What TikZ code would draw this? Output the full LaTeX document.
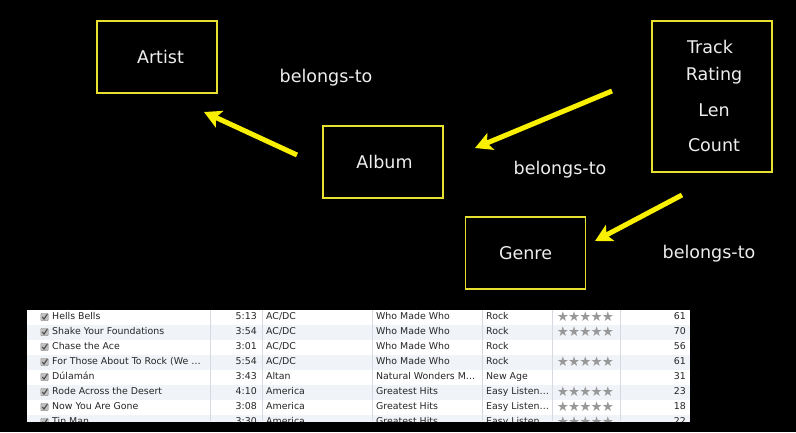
\documentclass[tikz,border=0pt]{standalone}
\usepackage{fontspec}
\setmainfont{DejaVu Sans}
\usetikzlibrary{arrows.meta}

\definecolor{boxyellow}{HTML}{E8E030}
\definecolor{arrowyellow}{HTML}{F8F000}
\definecolor{labelwhite}{HTML}{EEEEEE}
\definecolor{rowshade}{HTML}{F0F3F8}
\definecolor{gridline}{HTML}{D6DAE0}
\definecolor{cellink}{HTML}{262626}
\definecolor{stargray}{HTML}{989898}
\definecolor{checkgray}{HTML}{8A8A8A}

\tikzset{
  entity/.style={draw=boxyellow, line width=1.8pt, minimum width=120pt,
    minimum height=72pt, inner sep=0pt, text=labelwhite,
    font=\fontsize{17.5}{20}\selectfont},
  field/.style={text=labelwhite, inner sep=0pt, font=\fontsize{17.5}{20}\selectfont},
  relation/.style={text=labelwhite, inner sep=0pt, font=\fontsize{17.5}{20}\selectfont},
  flow/.style={draw=arrowyellow, line width=5pt,
    -{Stealth[length=17pt,width=18pt,inset=4pt]}},
  cell/.style={inner sep=0pt, text=cellink, text height=6.8pt, text depth=1.9pt,
    font=\fontsize{9.4}{11}\selectfont},
  starcell/.style={inner sep=0pt, text=stargray, font=\fontsize{13.5}{14}\selectfont},
}

% one row of the track list: index, centre y, name, time, artist, album, genre, rated, count
\newcommand\trackrow[9]{%
  \ifodd#1\else\fill[rowshade] (27,#2-7.5) rectangle (690,#2+7.5);\fi
  \node[draw=checkgray, fill=checkgray!55, rounded corners=0.8pt, minimum size=7.5pt,
        inner sep=0pt] (chk#1) at (44.5,#2) {};
  \draw[black!70, line width=1.1pt] ([shift={(-2.2,0)}]chk#1.center) -- ([shift={(-0.5,2)}]chk#1.center)
        -- ([shift={(2.8,-2.8)}]chk#1.center);
  \node[cell, anchor=west] (name#1) at (52,#2) {#3};
  \node[cell, anchor=east] (time#1) at (257,#2) {#4};
  \node[cell, anchor=west] (artist#1) at (266,#2) {#5};
  \node[cell, anchor=west] (album#1) at (376,#2) {#6};
  \node[cell, anchor=west] (genre#1) at (486,#2) {#7};
  \ifnum#8=1
    \foreach \k in {0,...,4}
      \node[starcell] (star#1-\k) at (563+11.2*\k,#2) {★};
  \fi
  \node[cell, anchor=east] (count#1) at (686,#2) {#9};
}

\begin{document}
\begin{tikzpicture}[x=1pt, y=-1pt]
  \fill[black] (0,0) rectangle (796,432);
  \useasboundingbox (0,0) rectangle (796,432);

  % entities
  \node[entity] (artist) at (157,57) {\hspace*{7pt}Artist};
  \node[entity] (album) at (383,162) {\hspace*{3pt}Album};
  \node[entity] (genre) at (525.5,253) {Genre};
  \node[entity, minimum height=151pt] (track) at (712,96.5) {};
  \node[field] (ftrack) at (710,47) {Track};
  \node[field] (frating) at (714,76) {Rating};
  \node[field] (flen) at (714,110) {Len};
  \node[field] (fcount) at (714,145) {Count};

  % relation labels
  \node[relation] (rel1) at (326,78) {belongs-to};
  \node[relation] (rel2) at (560,170) {belongs-to};
  \node[relation] (rel3) at (709,254) {belongs-to};

  % arrows
  \coordinate (a1tail) at (297,155);
  \coordinate (a1tip) at (204,112);
  \coordinate (a2tail) at (612,91);
  \coordinate (a2tip) at (475,148);
  \coordinate (a3tail) at (682,195);
  \coordinate (a3tip) at (595,241);
  \draw[flow] (a1tail) -- (a1tip);
  \draw[flow] (a2tail) -- (a2tip);
  \draw[flow] (a3tail) -- (a3tip);

  % track list
  \begin{scope}
    \clip (27,310) rectangle (690,421);
    \fill[white] (27,310) rectangle (690,421);
    \trackrow{1}{317}{Hells Bells}{5:13}{AC/DC}{Who Made Who}{Rock}{1}{61}
    \trackrow{2}{332}{Shake Your Foundations}{3:54}{AC/DC}{Who Made Who}{Rock}{1}{70}
    \trackrow{3}{347}{Chase the Ace}{3:01}{AC/DC}{Who Made Who}{Rock}{0}{56}
    \trackrow{4}{362}{For Those About To Rock (We …}{5:54}{AC/DC}{Who Made Who}{Rock}{1}{61}
    \trackrow{5}{377}{Dúlamán}{3:43}{Altan}{Natural Wonders M…}{New Age}{0}{31}
    \trackrow{6}{392}{Rode Across the Desert}{4:10}{America}{Greatest Hits}{Easy Listen…}{1}{23}
    \trackrow{7}{407}{Now You Are Gone}{3:08}{America}{Greatest Hits}{Easy Listen…}{1}{18}
    \trackrow{8}{422}{Tin Man}{3:30}{America}{Greatest Hits}{Easy Listen…}{1}{22}
    \foreach \gx in {210,262,372,482,552,620}
      \draw[gridline, line width=0.6pt] (\gx,310) -- (\gx,421);
  \end{scope}
\end{tikzpicture}
\end{document}
